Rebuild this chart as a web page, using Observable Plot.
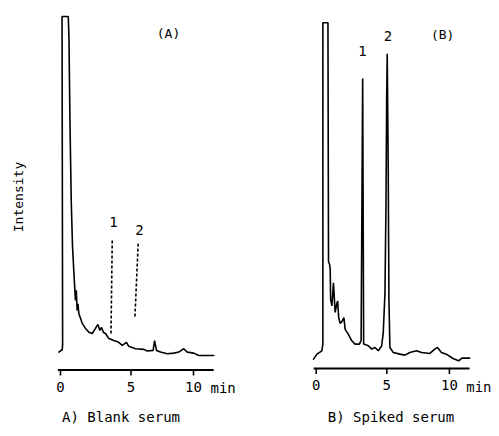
<!DOCTYPE html>
<html><head><meta charset="utf-8">
<script src="https://cdn.jsdelivr.net/npm/d3@7"></script>
<script src="https://cdn.jsdelivr.net/npm/@observablehq/plot@0.6"></script>
<style>
body{margin:0;background:#fff;}
#wrap{position:relative;width:499px;height:436px;font-family:"DejaVu Sans Mono",monospace;color:#000;overflow:hidden;}
.panel{position:absolute;top:0;}
.cap{position:absolute;font-size:14px;white-space:nowrap;transform:translate(-50%,-50%);}
.ylab{position:absolute;font-size:13px;white-space:nowrap;transform:translate(-50%,-50%) rotate(-90deg);}
</style></head><body>
<div id="wrap"></div>
<script>
// ---- Panel A: Blank serum (retention time in min, intensity in arbitrary units)
const timeA = [-0.12,0.12,0.15,0.11,0.55,0.60,0.67,0.76,0.85,0.94,1.06,1.12,1.18,1.24,1.30,1.54,1.77,2.01,2.25,2.48,2.65,2.79,2.91,3.05,3.19,3.43,3.78,4.13,4.38,4.68,4.84,5.32,5.91,6.15,6.57,6.67,6.81,7.09,7.57,8.04,8.39,8.74,8.99,9.45,9.81,10.87];
const intensityA = [0.7,1.4,3,100,100,93.8,69.2,45.6,32.2,24.9,16.0,19.0,13.0,15.0,12.1,9.2,7.7,6.6,6.2,7.7,8.9,7.1,8.0,6.5,6.2,4.7,4.1,3.6,2.7,3.6,2.4,1.7,1.5,1.0,1.2,4.1,1.2,0.7,0.2,0.4,0.7,1.7,0.7,0.4,-0.3,-0.3];
// expected positions of analytes 1 and 2 (dashed markers) in blank serum
const markerLabelsA = ["1","2"];
const markerTopTimeA = [3.67,5.51];
const markerTopIntA = [33.7,32.8];
const markerBottomTimeA = [3.58,5.28];
const markerBottomIntA = [6.2,11.2];
const labelTimeA = [3.76,5.60];
const labelIntA = [39.1,36.7];

// ---- Panel B: Spiked serum
const timeB = [-0.19,0.05,0.40,0.47,0.47,0.83,0.87,0.95,0.99,1.02,1.11,1.22,1.34,1.45,1.52,1.59,1.69,1.83,1.96,2.05,2.28,2.52,2.75,3.06,3.18,3.29,3.36,3.69,3.93,4.16,4.40,4.64,4.75,4.87,4.94,4.99,5.03,5.10,5.15,5.22,5.46,5.93,6.28,6.63,7.11,7.46,8.05,8.40,8.59,8.87,9.22,9.69,10.09,10.32,10.87];
const intensityB = [-0.6,0.9,1.9,3.9,100,100,28.6,27.7,26.2,17.3,15.3,22.2,13.4,15.8,16.8,11.9,10.1,10.7,11.8,8.3,6.8,4.9,3.9,3.9,5.0,83.3,3.9,3.4,2.4,2.9,1.9,3.4,7.4,19.3,44.9,76.8,90.7,56.9,17.3,2.9,1.4,0.9,0.6,1.4,1.9,1.4,1.1,2.4,2.9,1.4,0.9,-0.4,-1.1,-0.3,-0.3];
const peakLabelsB = ["1","2"];
const labelTimeB = [3.28,5.08];
const labelIntB = [91.4,95.8];

// ---- Axis
const tickValues = [0,5,10];
const unitLabel = "min";
const axisExtent = [-0.15,10.9];
const panelTitles = ["(A)","(B)"];
const titleTime = [7.66,8.96];
const titleInt = [95,96.4];
const captions = ["A) Blank serum","B) Spiked serum"];
const yTitle = "Intensity";

const font = '"DejaVu Sans Mono", monospace';
const AXIS_Y = 369.5, H = 436, W = 250;

function panel(o) {
  const data = o.time.map((t,i) => ({t, v:o.int[i]}));
  const marks = [
    Plot.ruleY([o.yMin], {x1: axisExtent[0], x2: axisExtent[1], strokeWidth: 2}),
    Plot.axisX({ticks: tickValues.slice(0,2), label: null, tickSize: 6, tickPadding: 6, strokeWidth: 1.6, fontSize: 14, tickFormat: d => String(d)}),
    Plot.axisX({ticks: tickValues.slice(2), label: null, tickSize: 6, tickPadding: 6, strokeWidth: 1.6, fontSize: 14, tickFormat: d => String(d), dx: -8}),
    Plot.text([unitLabel], {x: tickValues[2], y: o.yMin, text: d => d, dx: 9, dy: 19, textAnchor: "start", fontSize: 14}),
    Plot.line(data, {x: "t", y: "v", strokeWidth: 1.6, strokeLinejoin: "miter"}),
    Plot.text([o.title], {x: o.titleT, y: o.titleV, text: d => d, fontSize: 13}),
    Plot.text(o.labels, {x: (d,i) => o.labelT[i], y: (d,i) => o.labelV[i], text: d => d, fontSize: 14})
  ];
  if (o.markers) {
    marks.push(Plot.link(o.markers.labels, {
      x1: (d,i) => o.markers.t1[i], y1: (d,i) => o.markers.v1[i],
      x2: (d,i) => o.markers.t2[i], y2: (d,i) => o.markers.v2[i],
      strokeWidth: 1.6, strokeDasharray: "3,2"
    }));
  }
  return Plot.plot({
    width: W, height: H,
    marginLeft: 0, marginRight: 0, marginTop: 0, marginBottom: H - AXIS_Y,
    x: {domain: [0,10], range: o.xRange, label: null},
    y: {domain: [o.yMin, 100], range: [AXIS_Y, o.top], axis: null, label: null},
    style: {fontFamily: font, background: "white", color: "black", overflow: "visible"},
    marks
  });
}

const wrap = document.getElementById("wrap");
const pA = panel({time: timeA, int: intensityA, xRange: [60,201], yMin: -4.6, top: 16,
  title: panelTitles[0], titleT: titleTime[0], titleV: titleInt[0],
  labels: markerLabelsA, labelT: labelTimeA, labelV: labelIntA,
  markers: {labels: markerLabelsA, t1: markerTopTimeA, v1: markerTopIntA, t2: markerBottomTimeA, v2: markerBottomIntA}});
const pB = panel({time: timeB, int: intensityB, xRange: [66,207.7], yMin: -3.4, top: 22.3,
  title: panelTitles[1], titleT: titleTime[1], titleV: titleInt[1],
  labels: peakLabelsB, labelT: labelTimeB, labelV: labelIntB});
const dA = document.createElement("div"); dA.className = "panel"; dA.style.left = "0px"; dA.appendChild(pA);
const dB = document.createElement("div"); dB.className = "panel"; dB.style.left = "250px"; dB.appendChild(pB);
wrap.appendChild(dA); wrap.appendChild(dB);

const yl = document.createElement("div"); yl.className = "ylab"; yl.textContent = yTitle;
yl.style.left = "18px"; yl.style.top = "197px"; wrap.appendChild(yl);
[[captions[0],121],[captions[1],391]].forEach(([txt,x]) => {
  const c = document.createElement("div"); c.className = "cap"; c.textContent = txt;
  c.style.left = x + "px"; c.style.top = "417px"; wrap.appendChild(c);
});
</script>
</body></html>
